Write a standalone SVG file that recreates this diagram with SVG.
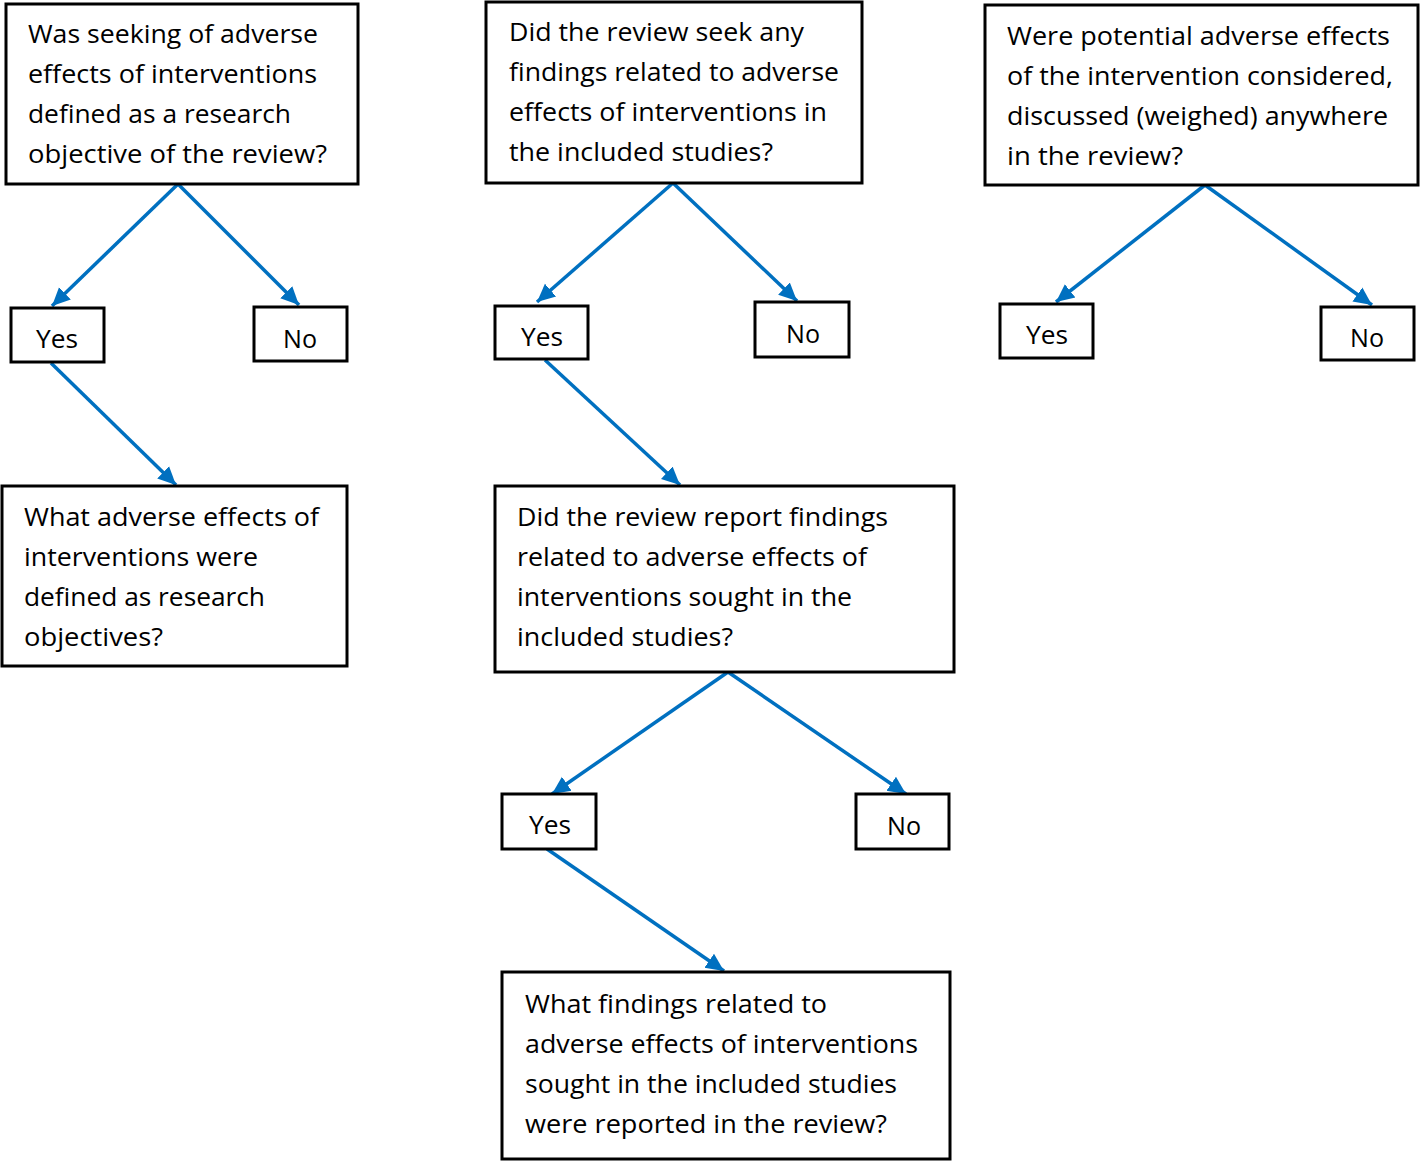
<svg xmlns="http://www.w3.org/2000/svg" width="1420" height="1161" viewBox="0 0 1420 1161">
<defs>
<style>
.box{fill:#fff;stroke:#000;stroke-width:3}
.t{font-family:"Open Sans","Noto Sans","Liberation Sans",sans-serif;font-size:25px;fill:#000}
.c{stroke:#0070C0;stroke-width:3.5;fill:none;marker-end:url(#ah)}
</style>
<marker id="ah" markerUnits="userSpaceOnUse" markerWidth="20" markerHeight="20" viewBox="0 0 20 20" refX="18" refY="10" orient="auto">
<path d="M0,1.5 L18,10 L0,18.5 Z" fill="#0070C0"/>
</marker>
</defs>
<rect width="1420" height="1161" fill="#fff"/>
<g id="connectors">
<line class="c" x1="178" y1="184" x2="52" y2="306"/>
<line class="c" x1="178" y1="184" x2="299" y2="305"/>
<line class="c" x1="51" y1="363" x2="176" y2="485"/>
<line class="c" x1="673" y1="183" x2="537" y2="302"/>
<line class="c" x1="673" y1="183" x2="797" y2="301"/>
<line class="c" x1="545" y1="360" x2="680" y2="485"/>
<line class="c" x1="1205" y1="185" x2="1056" y2="302"/>
<line class="c" x1="1205" y1="185" x2="1372" y2="305"/>
<line class="c" x1="728" y1="672" x2="552" y2="794"/>
<line class="c" x1="728" y1="672" x2="906" y2="794"/>
<line class="c" x1="547" y1="849" x2="724" y2="971"/>
</g>
<g id="q1">
<rect class="box" x="6" y="4" width="352" height="180"/>
<text class="t" x="28" y="43" textLength="290" lengthAdjust="spacingAndGlyphs">Was seeking of adverse</text>
<text class="t" x="28" y="83" textLength="289" lengthAdjust="spacingAndGlyphs">effects of interventions</text>
<text class="t" x="28" y="123" textLength="263" lengthAdjust="spacingAndGlyphs">defined as a research</text>
<text class="t" x="28" y="163" textLength="299" lengthAdjust="spacingAndGlyphs">objective of the review?</text>
</g>
<g id="q2">
<rect class="box" x="486" y="2" width="376" height="181"/>
<text class="t" x="509" y="41" textLength="295" lengthAdjust="spacingAndGlyphs">Did the review seek any</text>
<text class="t" x="509" y="81" textLength="330" lengthAdjust="spacingAndGlyphs">findings related to adverse</text>
<text class="t" x="509" y="121" textLength="318" lengthAdjust="spacingAndGlyphs">effects of interventions in</text>
<text class="t" x="509" y="161" textLength="264" lengthAdjust="spacingAndGlyphs">the included studies?</text>
</g>
<g id="q3">
<rect class="box" x="985" y="5" width="433" height="180"/>
<text class="t" x="1007" y="45" textLength="383" lengthAdjust="spacingAndGlyphs">Were potential adverse effects</text>
<text class="t" x="1007" y="85" textLength="386" lengthAdjust="spacingAndGlyphs">of the intervention considered,</text>
<text class="t" x="1007" y="125" textLength="381" lengthAdjust="spacingAndGlyphs">discussed (weighed) anywhere</text>
<text class="t" x="1007" y="165" textLength="176" lengthAdjust="spacingAndGlyphs">in the review?</text>
</g>
<g id="yes1"><rect class="box" x="11" y="308" width="93" height="54"/><text class="t" x="36" y="348" textLength="42" lengthAdjust="spacingAndGlyphs">Yes</text></g>
<g id="no1"><rect class="box" x="254" y="307" width="93" height="54"/><text class="t" x="283" y="348" textLength="34" lengthAdjust="spacingAndGlyphs">No</text></g>
<g id="yes2"><rect class="box" x="495" y="306" width="93" height="53"/><text class="t" x="521" y="346" textLength="42" lengthAdjust="spacingAndGlyphs">Yes</text></g>
<g id="no2"><rect class="box" x="755" y="302" width="94" height="55"/><text class="t" x="786" y="343" textLength="34" lengthAdjust="spacingAndGlyphs">No</text></g>
<g id="yes3"><rect class="box" x="1000" y="304" width="93" height="54"/><text class="t" x="1026" y="344" textLength="42" lengthAdjust="spacingAndGlyphs">Yes</text></g>
<g id="no3"><rect class="box" x="1321" y="307" width="93" height="53"/><text class="t" x="1350" y="347" textLength="34" lengthAdjust="spacingAndGlyphs">No</text></g>
<g id="q4">
<rect class="box" x="2" y="486" width="345" height="180"/>
<text class="t" x="24" y="526" textLength="295" lengthAdjust="spacingAndGlyphs">What adverse effects of</text>
<text class="t" x="24" y="566" textLength="234" lengthAdjust="spacingAndGlyphs">interventions were</text>
<text class="t" x="24" y="606" textLength="241" lengthAdjust="spacingAndGlyphs">defined as research</text>
<text class="t" x="24" y="646" textLength="139" lengthAdjust="spacingAndGlyphs">objectives?</text>
</g>
<g id="q5">
<rect class="box" x="495" y="486" width="459" height="186"/>
<text class="t" x="517" y="526" textLength="371" lengthAdjust="spacingAndGlyphs">Did the review report findings</text>
<text class="t" x="517" y="566" textLength="350" lengthAdjust="spacingAndGlyphs">related to adverse effects of</text>
<text class="t" x="517" y="606" textLength="335" lengthAdjust="spacingAndGlyphs">interventions sought in the</text>
<text class="t" x="517" y="646" textLength="216" lengthAdjust="spacingAndGlyphs">included studies?</text>
</g>
<g id="yes4"><rect class="box" x="502" y="794" width="94" height="55"/><text class="t" x="529" y="834" textLength="42" lengthAdjust="spacingAndGlyphs">Yes</text></g>
<g id="no4"><rect class="box" x="856" y="794" width="93" height="55"/><text class="t" x="887" y="835" textLength="34" lengthAdjust="spacingAndGlyphs">No</text></g>
<g id="q6">
<rect class="box" x="502" y="972" width="448" height="187"/>
<text class="t" x="525" y="1013" textLength="302" lengthAdjust="spacingAndGlyphs">What findings related to</text>
<text class="t" x="525" y="1053" textLength="393" lengthAdjust="spacingAndGlyphs">adverse effects of interventions</text>
<text class="t" x="525" y="1093" textLength="372" lengthAdjust="spacingAndGlyphs">sought in the included studies</text>
<text class="t" x="525" y="1133" textLength="362" lengthAdjust="spacingAndGlyphs">were reported in the review?</text>
</g>
</svg>
